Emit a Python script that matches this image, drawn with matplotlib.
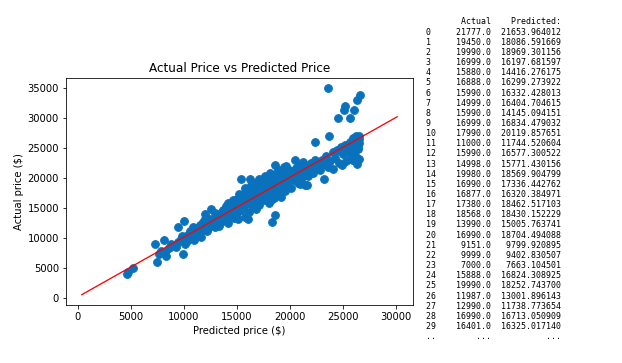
import matplotlib
matplotlib.use("Agg")
import matplotlib.pyplot as plt

# scatter: predicted (x) vs actual (y)
predicted = [
    4610, 4750, 5240, 7270, 7520, 7700, 7900, 8110, 8200, 8370, 8600, 8840, 9000, 9310,
    9460, 9500, 9700, 9930, 10030, 10090, 10200, 10400, 10500, 10600, 10700, 10870, 10900,
    11000, 11100, 11200, 11300, 11400, 11500, 11660, 11700, 11800, 11900, 11970, 12100,
    12200, 12290, 12400, 12500, 12600, 12700, 12800, 12900, 13000, 13100, 13200, 13300,
    13400, 13500, 13600, 13700, 13850, 13900, 14000, 14100, 14170, 14200, 14300, 14400,
    14500, 14600, 14700, 14800, 14900, 15000, 15000, 15100, 15200, 15300, 15400, 15420,
    15500, 15600, 15700, 15800, 15800, 15900, 16000, 16100, 16200, 16200, 16300, 16400,
    16500, 16500, 16600, 16700, 16800, 16800, 16900, 17000, 17000, 17100, 17200, 17300,
    17400, 17500, 17500, 17600, 17700, 17800, 17900, 18000, 18000, 18100, 18200, 18300,
    18300, 18400, 18500, 18550, 18550, 18600, 18700, 18800, 18900, 19000, 19100, 19200,
    19300, 19400, 19500, 19600, 19700, 19800, 19900, 20000, 20100, 20200, 20430, 20500,
    20600, 20700, 20900, 21000, 21100, 21370, 21370, 21500, 21620, 21800, 22000, 22200,
    22310, 22400, 22600, 22800, 23000, 23190, 23200, 23400, 23570, 23660, 23600, 23800,
    24000, 24030, 24200, 24400, 24500, 24600, 24800, 25000, 25070, 25130, 25200, 25300,
    25400, 25600, 25660, 25700, 25800, 25900, 25950, 26000, 26010, 26100, 26200, 26200,
    26300, 26320, 26400, 26450, 26500, 26540, 26500,
    14200, 14600, 15000, 15200, 15400, 15600, 15800, 16000, 16100, 16300, 16400, 16600,
    16700, 16900, 17100, 17200, 17400, 17600, 17800, 17900, 18100, 18200, 18400, 18600,
    18800, 19000, 19200, 19400, 19600, 19800, 20000, 20300, 20600, 20800, 21000, 21200,
    21400, 21700, 22000, 22300, 22700, 12000, 12300, 11000, 10300, 9800, 13300, 13700,
    12900, 11500, 14760, 16050, 26050, 26150, 26350, 26250, 26450, 25900, 24900, 24700,
]
actual = [
    3970, 4250, 4920, 9010, 5930, 7400, 7890, 9680, 7600, 7050, 8300, 9010, 8700, 8440,
    11910, 9300, 9900, 7330, 12800, 9010, 10300, 9800, 10700, 11200, 10100, 11810, 10500,
    9600, 11000, 10400, 11500, 10900, 12100, 10120, 11300, 12600, 11700, 14040, 12300,
    11200, 12370, 13100, 12000, 14880, 12700, 13400, 11800, 12900, 13600, 12300, 14000,
    13200, 12700, 14300, 13500, 14880, 13900, 15300, 14400, 12480, 13700, 15000, 14000,
    15600, 14600, 13600, 15900, 15100, 14200, 16500, 13200, 15500, 16900, 14700, 19920,
    16100, 17400, 15300, 13500, 16700, 17900, 15800, 14400, 19920, 17100, 16200, 18200,
    15400, 17600, 16600, 18600, 14800, 17200, 16000, 18900, 17600, 15500, 18300, 16900,
    19500, 17900, 16300, 20400, 18500, 17100, 19300, 15800, 18200, 20900, 17500, 12650,
    19600, 18700, 16700, 22150, 13760, 20200, 17900, 19000, 21300, 18300, 16900, 20000,
    19300, 21800, 17900, 20700, 18800, 19700, 21400, 20300, 18400, 21100, 22990, 20000,
    21700, 19200, 19080, 21200, 22100, 21310, 18790, 20600, 18790, 21900, 22500, 20800,
    26060, 22000, 22600, 21400, 23000, 19920, 22300, 23700, 35000, 27020, 21800, 22900,
    24300, 21600, 23300, 24700, 30090, 22500, 25200, 24000, 31380, 32050, 25600, 22900,
    24600, 26000, 30090, 23700, 25100, 26700, 22990, 24300, 31380, 25600, 27000, 23500,
    26200, 33060, 24800, 27100, 25900, 33900, 23200,
    15800, 16300, 15000, 17300, 15900, 15000, 18300, 17000, 16000, 18800, 15700, 19200,
    16900, 18000, 19800, 17000, 18100, 16700, 19700, 18000, 19100, 16400, 20600, 18500,
    17600, 20800, 18900, 19900, 22000, 18500, 21200, 19600, 20600, 22200, 19800, 22700,
    21700, 20300, 21300, 23000, 21900, 13200, 11600, 11600, 9500, 10400, 12000, 14700,
    14200, 11000, 13250, 13200, 24000, 26000, 25200, 22400, 26600, 23000, 22200, 24600,
]

# red reference line
line_x = [400, 30080]
line_y = [520, 30250]

# printed table on the right
tbl_index = list(range(30))
tbl_actual = [
    21777.0, 19450.0, 19990.0, 16999.0, 15880.0, 16888.0, 15990.0, 14999.0, 15990.0,
    16999.0, 17990.0, 11000.0, 15990.0, 14998.0, 19980.0, 16990.0, 16877.0, 17380.0,
    18568.0, 13990.0, 16990.0, 9151.0, 9999.0, 7000.0, 15888.0, 19990.0, 11987.0,
    12990.0, 16990.0, 16401.0,
]
tbl_pred = [
    21653.964012, 18086.591669, 18969.301156, 16197.681597, 14416.276175, 16299.273922,
    16332.428013, 16404.704615, 14145.094151, 16834.479032, 20119.857651, 11744.520604,
    16577.300522, 15771.430156, 18569.904799, 17336.442762, 16320.384971, 18462.517103,
    18430.152229, 15005.763741, 18704.494088, 9799.920895, 9402.830507, 7663.104501,
    16824.308925, 18252.743700, 13001.896143, 11738.773654, 16713.050909, 16325.017140,
]

W, H, DPI = 622, 363, 72
fig = plt.figure(figsize=(W / DPI, H / DPI), dpi=DPI)
ax = fig.add_axes([66 / W, 1 - 305 / H, (413 - 66) / W, (305 - 78) / H])

ax.scatter(predicted, actual, color="#0a72bc", s=60)
ax.plot(line_x, line_y, color="red", lw=1.3)
ax.set_title("Actual Price vs Predicted Price")
ax.set_xlabel("Predicted price ($)")
ax.set_ylabel("Actual price ($)")

# table text, one row at a time (pandas-like layout)
lines = [f"{'':2}{'Actual':>11}{'Predicted:':>14}"]
for i, a, p in zip(tbl_index, tbl_actual, tbl_pred):
    lines.append(f"{i:<2}{a:>11.1f}  {p:>12.6f}")
lines.append(f"{'..':<2}{'...':>11}  {'...':>12}")

x0 = 426 / W
top = 22 / H
step = 10.15 / H
for k, s in enumerate(lines):
    fig.text(x0, 1 - top - k * step, s, family="DejaVu Sans Mono", fontsize=8.2,
             ha="left", va="center")

fig.savefig("out.png", dpi=DPI)
